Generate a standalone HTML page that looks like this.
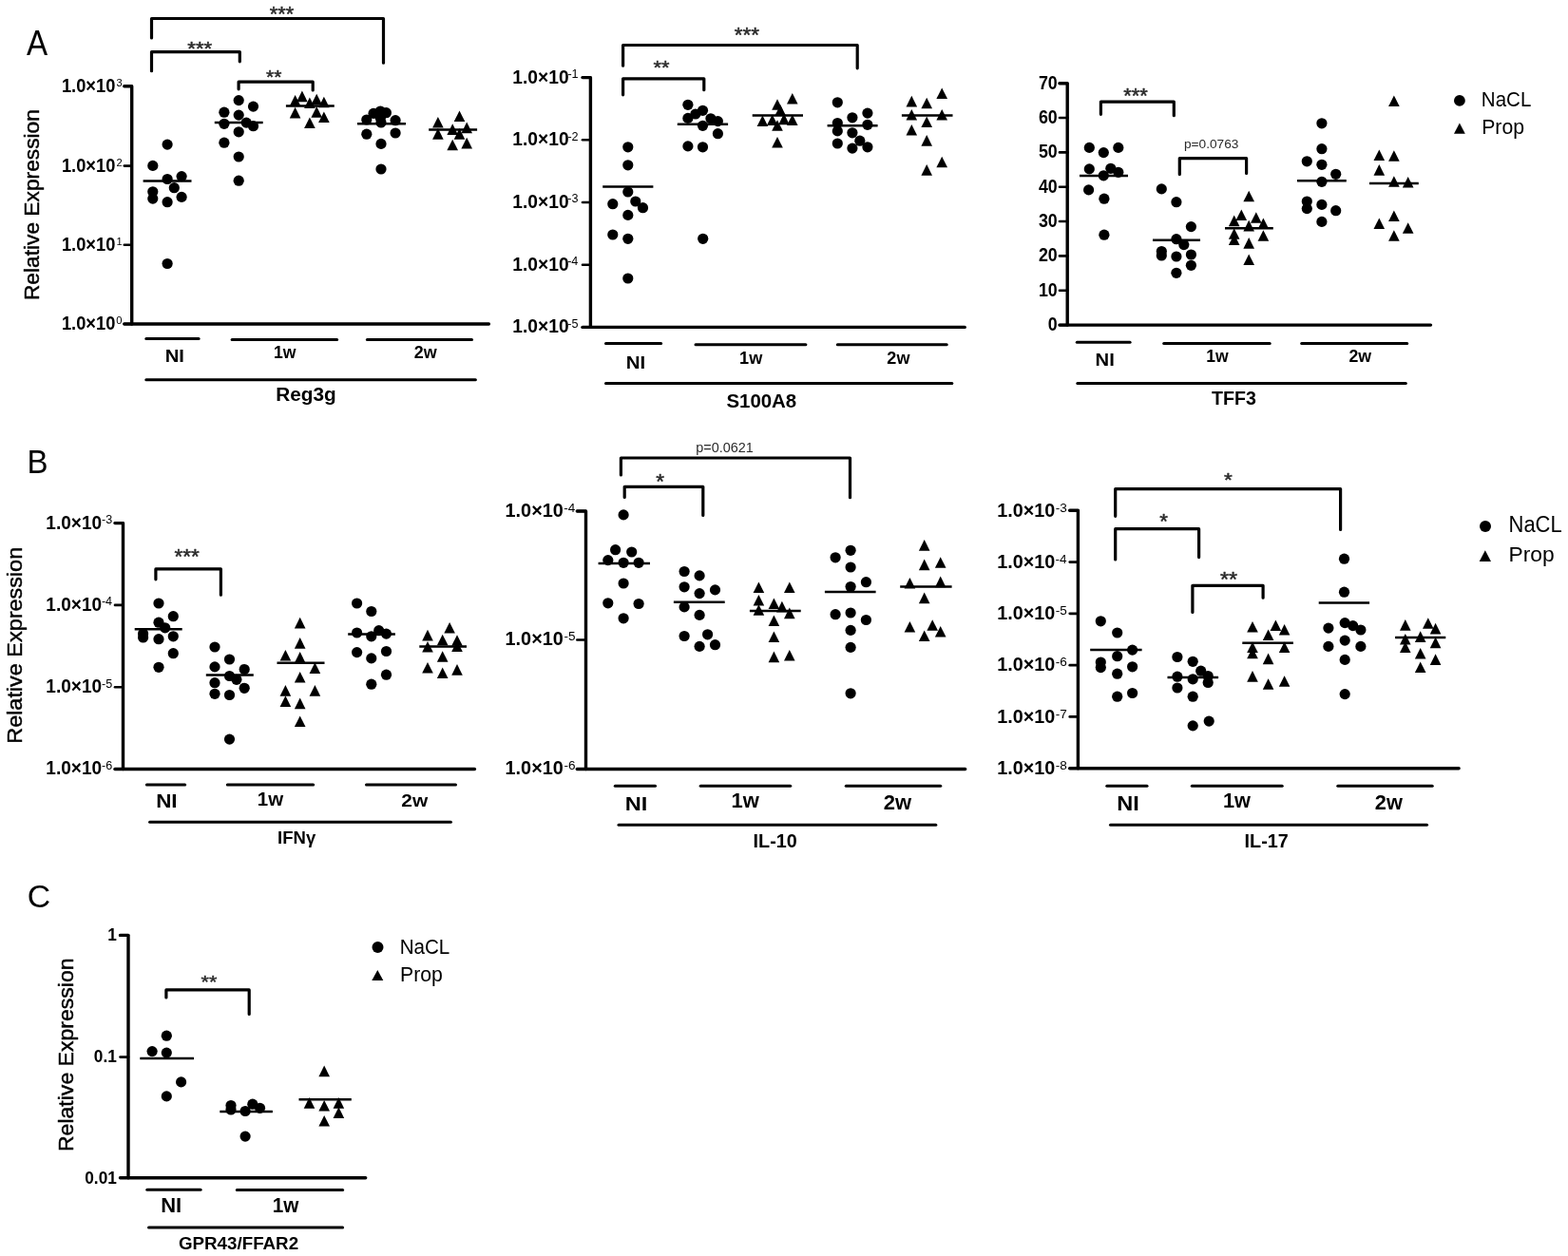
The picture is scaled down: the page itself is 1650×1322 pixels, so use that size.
<!DOCTYPE html>
<html><head><meta charset="utf-8"><title>Figure</title>
<style>
html,body{margin:0;padding:0;background:#fff;}
body{width:1650px;height:1322px;overflow:hidden;}
svg{display:block;}
text{font-family:'Liberation Sans', Arial, sans-serif;}
</style></head>
<body>
<svg width="1650" height="1322" viewBox="0 0 1650 1322">
<rect width="1650" height="1322" fill="#fff"/>
<g fill="#000">
<text transform="matrix(0.33182 0 0 0.36232 28.03 57.6)" font-size="100" font-weight="normal" fill="#000">A</text>
<text transform="matrix(0.33084 0 0 0.34493 28.55 497.8)" font-size="100" font-weight="normal" fill="#000">B</text>
<text transform="matrix(0.3381 0 0 0.33803 28.71 955.46)" font-size="100" font-weight="normal" fill="#000">C</text>
<path d="M130.8 90.8L138.7 90.8L138.7 341" stroke="#000" stroke-width="3.4" fill="none" stroke-linecap="round" stroke-linejoin="round"/>
<line x1="130.8" y1="341" x2="514.4" y2="341" stroke="#000" stroke-width="3.4" stroke-linecap="round"/>
<line x1="130.8" y1="90.8" x2="138.7" y2="90.8" stroke="#000" stroke-width="2.6" stroke-linecap="round"/>
<line x1="130.8" y1="174.6" x2="138.7" y2="174.6" stroke="#000" stroke-width="2.6" stroke-linecap="round"/>
<line x1="130.8" y1="257.8" x2="138.7" y2="257.8" stroke="#000" stroke-width="2.6" stroke-linecap="round"/>
<line x1="130.8" y1="341" x2="138.7" y2="341" stroke="#000" stroke-width="2.6" stroke-linecap="round"/>
<text transform="matrix(0.18289 0 0 0.19565 64.91 96.7)" font-size="100" font-weight="bold" fill="#000">1.0×10</text>
<text transform="matrix(0.11152 0 0 0.11152 122.41 90.89)" font-size="100" font-weight="normal" fill="#000">3</text>
<text transform="matrix(0.18289 0 0 0.19565 64.91 180.5)" font-size="100" font-weight="bold" fill="#000">1.0×10</text>
<text transform="matrix(0.11152 0 0 0.11152 122.47 174.69)" font-size="100" font-weight="normal" fill="#000">2</text>
<text transform="matrix(0.18289 0 0 0.19565 64.91 263.7)" font-size="100" font-weight="bold" fill="#000">1.0×10</text>
<text transform="matrix(0.11152 0 0 0.11152 122.47 257.9)" font-size="100" font-weight="normal" fill="#000">1</text>
<text transform="matrix(0.18289 0 0 0.19565 64.91 346.9)" font-size="100" font-weight="bold" fill="#000">1.0×10</text>
<text transform="matrix(0.11152 0 0 0.11152 122.36 341.09)" font-size="100" font-weight="normal" fill="#000">0</text>
<text transform="matrix(0 -0.22762 0.22174 0 40.7 316.12)" font-size="100" font-weight="normal" fill="#000" stroke="#000" stroke-width="2" stroke-linejoin="round">Relative Expression</text>
<line x1="153.8" y1="356.6" x2="209.1" y2="356.6" stroke="#000" stroke-width="3" stroke-linecap="round"/>
<line x1="244.1" y1="357.4" x2="354.6" y2="357.4" stroke="#000" stroke-width="3" stroke-linecap="round"/>
<line x1="386.4" y1="357.4" x2="496.5" y2="357.4" stroke="#000" stroke-width="3" stroke-linecap="round"/>
<text transform="matrix(0.20231 0 0 0.18406 173.68 380.7)" font-size="100" font-weight="bold" fill="#000">NI</text>
<text transform="matrix(0.17638 0 0 0.17681 288.05 377.2)" font-size="100" font-weight="bold" fill="#000">1w</text>
<text transform="matrix(0.17923 0 0 0.17681 435.77 377.2)" font-size="100" font-weight="bold" fill="#000">2w</text>
<line x1="153.8" y1="399.8" x2="500.4" y2="399.8" stroke="#000" stroke-width="3" stroke-linecap="round"/>
<text transform="matrix(0.20786 0 0 0.1942 290.15 421.7)" font-size="100" font-weight="bold" fill="#000">Reg3g</text>
<path d="M159.5 39.9L159.5 19.5L403.5 19.5L403.5 66.2" stroke="#000" stroke-width="3.2" fill="none" stroke-linecap="round" stroke-linejoin="round"/>
<text transform="matrix(0.2177 0 0 0.21714 283.76 21.78)" font-size="100" font-weight="normal" fill="#2b2b2b" stroke="#2b2b2b" stroke-width="2.3" stroke-linejoin="round">***</text>
<path d="M159.5 74.7L159.5 54.6L252.3 54.6L252.3 64.8" stroke="#000" stroke-width="3.2" fill="none" stroke-linecap="round" stroke-linejoin="round"/>
<text transform="matrix(0.22212 0 0 0.20286 197.26 57.8)" font-size="100" font-weight="normal" fill="#2b2b2b" stroke="#2b2b2b" stroke-width="2.35" stroke-linejoin="round">***</text>
<path d="M251.1 93.8L251.1 86.2L329.2 86.2L329.2 95" stroke="#000" stroke-width="3.2" fill="none" stroke-linecap="round" stroke-linejoin="round"/>
<text transform="matrix(0.21081 0 0 0.20286 280.08 87.5)" font-size="100" font-weight="normal" fill="#2b2b2b" stroke="#2b2b2b" stroke-width="2.42" stroke-linejoin="round">**</text>
<circle cx="176.1" cy="152.1" r="5.6"/>
<circle cx="160.8" cy="174.4" r="5.6"/>
<circle cx="176.1" cy="188.5" r="5.6"/>
<circle cx="191.1" cy="185.6" r="5.6"/>
<circle cx="183.3" cy="197.7" r="5.6"/>
<circle cx="160.8" cy="201.8" r="5.6"/>
<circle cx="160.8" cy="209.1" r="5.6"/>
<circle cx="176.1" cy="212.7" r="5.6"/>
<circle cx="191.1" cy="207.4" r="5.6"/>
<circle cx="176.1" cy="277.5" r="5.6"/>
<line x1="150.6" y1="190.4" x2="201.5" y2="190.4" stroke="#000" stroke-width="2.5" stroke-linecap="butt"/>
<circle cx="251.2" cy="105.6" r="5.6"/>
<circle cx="266.5" cy="112.1" r="5.6"/>
<circle cx="235.9" cy="118.2" r="5.6"/>
<circle cx="251.2" cy="121.1" r="5.6"/>
<circle cx="235.9" cy="130.3" r="5.6"/>
<circle cx="259.2" cy="129.1" r="5.6"/>
<circle cx="266.5" cy="132.7" r="5.6"/>
<circle cx="251.2" cy="138.8" r="5.6"/>
<circle cx="235.9" cy="150.2" r="5.6"/>
<circle cx="251.2" cy="165" r="5.6"/>
<circle cx="251.2" cy="190.2" r="5.6"/>
<line x1="225.8" y1="129.1" x2="276.7" y2="129.1" stroke="#000" stroke-width="2.5" stroke-linecap="butt"/>
<path d="M317.9 95.6L323.7 107.2L312.1 107.2Z"/>
<path d="M310.6 99.9L316.4 111.5L304.8 111.5Z"/>
<path d="M333.2 98.7L339 110.3L327.4 110.3Z"/>
<path d="M340.9 101.7L346.7 113.3L335.1 113.3Z"/>
<path d="M325.9 102.4L331.7 114L320.1 114Z"/>
<path d="M310.6 112.8L316.4 124.4L304.8 124.4Z"/>
<path d="M333.2 112.1L339 123.7L327.4 123.7Z"/>
<path d="M340.9 117.4L346.7 129L335.1 129Z"/>
<path d="M325.9 123.5L331.7 135.1L320.1 135.1Z"/>
<line x1="300.9" y1="111.4" x2="351.8" y2="111.4" stroke="#000" stroke-width="2.5" stroke-linecap="butt"/>
<circle cx="385.8" cy="126" r="5.6"/>
<circle cx="393" cy="119.4" r="5.6"/>
<circle cx="400.3" cy="117" r="5.6"/>
<circle cx="406.4" cy="118.7" r="5.6"/>
<circle cx="400.3" cy="124.2" r="5.6"/>
<circle cx="401" cy="129" r="5.6"/>
<circle cx="416.1" cy="126.7" r="5.6"/>
<circle cx="385.8" cy="141.2" r="5.6"/>
<circle cx="416.1" cy="140" r="5.6"/>
<circle cx="401" cy="151.4" r="5.6"/>
<circle cx="401" cy="178" r="5.6"/>
<line x1="376" y1="130.3" x2="427" y2="130.3" stroke="#000" stroke-width="2.5" stroke-linecap="butt"/>
<path d="M483.5 116.4L489.3 128L477.7 128Z"/>
<path d="M460.9 123L466.7 134.6L455.1 134.6Z"/>
<path d="M476.2 130.3L482 141.9L470.4 141.9Z"/>
<path d="M491.2 128.6L497 140.2L485.4 140.2Z"/>
<path d="M460.9 135.1L466.7 146.7L455.1 146.7Z"/>
<path d="M483.5 135.1L489.3 146.7L477.7 146.7Z"/>
<path d="M476.2 146.7L482 158.3L470.4 158.3Z"/>
<path d="M491.2 144.8L497 156.4L485.4 156.4Z"/>
<line x1="451.2" y1="136.6" x2="502.1" y2="136.6" stroke="#000" stroke-width="2.5" stroke-linecap="butt"/>
<path d="M613 81.6L621.4 81.6L621.4 344.4" stroke="#000" stroke-width="3.4" fill="none" stroke-linecap="round" stroke-linejoin="round"/>
<line x1="613" y1="344.4" x2="1015.2" y2="344.4" stroke="#000" stroke-width="3.4" stroke-linecap="round"/>
<line x1="613" y1="81.6" x2="621.4" y2="81.6" stroke="#000" stroke-width="2.6" stroke-linecap="round"/>
<line x1="613" y1="147.3" x2="621.4" y2="147.3" stroke="#000" stroke-width="2.6" stroke-linecap="round"/>
<line x1="613" y1="213" x2="621.4" y2="213" stroke="#000" stroke-width="2.6" stroke-linecap="round"/>
<line x1="613" y1="278.7" x2="621.4" y2="278.7" stroke="#000" stroke-width="2.6" stroke-linecap="round"/>
<line x1="613" y1="344.4" x2="621.4" y2="344.4" stroke="#000" stroke-width="2.6" stroke-linecap="round"/>
<text transform="matrix(0.19195 0 0 0.20725 539.35 87.5)" font-size="100" font-weight="bold" fill="#000">1.0×10</text>
<text transform="matrix(0.12642 0 0 0.12642 597.38 81.92)" font-size="100" font-weight="normal" fill="#000">-1</text>
<text transform="matrix(0.19195 0 0 0.20725 539.35 153.2)" font-size="100" font-weight="bold" fill="#000">1.0×10</text>
<text transform="matrix(0.12642 0 0 0.12642 597.38 147.62)" font-size="100" font-weight="normal" fill="#000">-2</text>
<text transform="matrix(0.19195 0 0 0.20725 539.35 218.9)" font-size="100" font-weight="bold" fill="#000">1.0×10</text>
<text transform="matrix(0.12642 0 0 0.12642 597.32 213.32)" font-size="100" font-weight="normal" fill="#000">-3</text>
<text transform="matrix(0.19195 0 0 0.20725 539.35 284.6)" font-size="100" font-weight="bold" fill="#000">1.0×10</text>
<text transform="matrix(0.12642 0 0 0.12642 597.13 279.02)" font-size="100" font-weight="normal" fill="#000">-4</text>
<text transform="matrix(0.19195 0 0 0.20725 539.35 350.3)" font-size="100" font-weight="bold" fill="#000">1.0×10</text>
<text transform="matrix(0.12642 0 0 0.12642 597.25 344.72)" font-size="100" font-weight="normal" fill="#000">-5</text>
<line x1="637.5" y1="361.5" x2="695.6" y2="361.5" stroke="#000" stroke-width="3" stroke-linecap="round"/>
<line x1="732" y1="362.7" x2="847.9" y2="362.7" stroke="#000" stroke-width="3" stroke-linecap="round"/>
<line x1="881.3" y1="362.7" x2="996.2" y2="362.7" stroke="#000" stroke-width="3" stroke-linecap="round"/>
<text transform="matrix(0.20462 0 0 0.18406 658.67 387.5)" font-size="100" font-weight="bold" fill="#000">NI</text>
<text transform="matrix(0.1811 0 0 0.18261 778.12 383.3)" font-size="100" font-weight="bold" fill="#000">1w</text>
<text transform="matrix(0.18077 0 0 0.18261 933.37 383.3)" font-size="100" font-weight="bold" fill="#000">2w</text>
<line x1="637.5" y1="403.5" x2="1001.8" y2="403.5" stroke="#000" stroke-width="3" stroke-linecap="round"/>
<text transform="matrix(0.2045 0 0 0.20145 764.39 428.7)" font-size="100" font-weight="bold" fill="#000">S100A8</text>
<path d="M655.6 69.2L655.6 47.5L902.2 47.5L902.2 71.8" stroke="#000" stroke-width="3.2" fill="none" stroke-linecap="round" stroke-linejoin="round"/>
<text transform="matrix(0.22566 0 0 0.22 772.75 44.48)" font-size="100" font-weight="normal" fill="#2b2b2b" stroke="#2b2b2b" stroke-width="2.24" stroke-linejoin="round">***</text>
<path d="M655.6 99.8L655.6 82.8L740.8 82.8L740.8 94.7" stroke="#000" stroke-width="3.2" fill="none" stroke-linecap="round" stroke-linejoin="round"/>
<text transform="matrix(0.21892 0 0 0.20857 687.46 77.69)" font-size="100" font-weight="normal" fill="#2b2b2b" stroke="#2b2b2b" stroke-width="2.34" stroke-linejoin="round">**</text>
<circle cx="660.8" cy="154.8" r="5.6"/>
<circle cx="660.8" cy="173.8" r="5.6"/>
<circle cx="660.8" cy="202" r="5.6"/>
<circle cx="644.8" cy="214.7" r="5.6"/>
<circle cx="668.8" cy="212" r="5.6"/>
<circle cx="676.5" cy="218.7" r="5.6"/>
<circle cx="660.8" cy="226.4" r="5.6"/>
<circle cx="644.8" cy="247" r="5.6"/>
<circle cx="660.8" cy="251.3" r="5.6"/>
<circle cx="660.8" cy="293" r="5.6"/>
<line x1="634.2" y1="196.4" x2="687.4" y2="196.4" stroke="#000" stroke-width="2.5" stroke-linecap="butt"/>
<circle cx="723.9" cy="110.3" r="5.6"/>
<circle cx="739.5" cy="116.3" r="5.6"/>
<circle cx="731.9" cy="120" r="5.6"/>
<circle cx="723.9" cy="124.4" r="5.6"/>
<circle cx="747.9" cy="124.8" r="5.6"/>
<circle cx="755.4" cy="127.6" r="5.6"/>
<circle cx="739.5" cy="132.3" r="5.6"/>
<circle cx="755.4" cy="140.7" r="5.6"/>
<circle cx="723.9" cy="153.9" r="5.6"/>
<circle cx="739.5" cy="154.8" r="5.6"/>
<circle cx="739.7" cy="251.3" r="5.6"/>
<line x1="712.8" y1="130.8" x2="766.1" y2="130.8" stroke="#000" stroke-width="2.5" stroke-linecap="butt"/>
<path d="M833.8 98L839.6 109.6L828 109.6Z"/>
<path d="M818 104.2L823.8 115.8L812.2 115.8Z"/>
<path d="M821.2 110.2L827 121.8L815.4 121.8Z"/>
<path d="M802.4 121.5L808.2 133.1L796.6 133.1Z"/>
<path d="M812.7 120.5L818.5 132.1L806.9 132.1Z"/>
<path d="M825 119.6L830.8 131.2L819.2 131.2Z"/>
<path d="M833.8 120.5L839.6 132.1L828 132.1Z"/>
<path d="M818 126.2L823.8 137.8L812.2 137.8Z"/>
<path d="M818 144L823.8 155.6L812.2 155.6Z"/>
<line x1="791.7" y1="121.6" x2="845" y2="121.6" stroke="#000" stroke-width="2.5" stroke-linecap="butt"/>
<circle cx="881.3" cy="107.8" r="5.6"/>
<circle cx="912.9" cy="119.1" r="5.6"/>
<circle cx="896.9" cy="123.8" r="5.6"/>
<circle cx="881.3" cy="129.5" r="5.6"/>
<circle cx="912.9" cy="131.3" r="5.6"/>
<circle cx="881.3" cy="137.9" r="5.6"/>
<circle cx="896.9" cy="139.8" r="5.6"/>
<circle cx="904.8" cy="148.2" r="5.6"/>
<circle cx="881.3" cy="151" r="5.6"/>
<circle cx="896.9" cy="156.1" r="5.6"/>
<circle cx="912.9" cy="154.8" r="5.6"/>
<line x1="870.6" y1="132.3" x2="923.6" y2="132.3" stroke="#000" stroke-width="2.5" stroke-linecap="butt"/>
<path d="M991.2 92.4L997 104L985.4 104Z"/>
<path d="M959.3 100.8L965.1 112.4L953.5 112.4Z"/>
<path d="M975.2 102.7L981 114.3L969.4 114.3Z"/>
<path d="M959.3 114.9L965.1 126.5L953.5 126.5Z"/>
<path d="M991.2 114.9L997 126.5L985.4 126.5Z"/>
<path d="M975.2 122.4L981 134L969.4 134Z"/>
<path d="M959.3 130.9L965.1 142.5L953.5 142.5Z"/>
<path d="M975.2 142.1L981 153.7L969.4 153.7Z"/>
<path d="M991.2 164.7L997 176.3L985.4 176.3Z"/>
<path d="M975.2 173.1L981 184.7L969.4 184.7Z"/>
<line x1="948.9" y1="121.6" x2="1002.5" y2="121.6" stroke="#000" stroke-width="2.5" stroke-linecap="butt"/>
<path d="M1115 87.7L1123.2 87.7L1123.2 342.1" stroke="#000" stroke-width="3.4" fill="none" stroke-linecap="round" stroke-linejoin="round"/>
<line x1="1115" y1="342.1" x2="1505.5" y2="342.1" stroke="#000" stroke-width="3.4" stroke-linecap="round"/>
<line x1="1115" y1="342.1" x2="1123.2" y2="342.1" stroke="#000" stroke-width="2.6" stroke-linecap="round"/>
<line x1="1115" y1="305.76" x2="1123.2" y2="305.76" stroke="#000" stroke-width="2.6" stroke-linecap="round"/>
<line x1="1115" y1="269.41" x2="1123.2" y2="269.41" stroke="#000" stroke-width="2.6" stroke-linecap="round"/>
<line x1="1115" y1="233.07" x2="1123.2" y2="233.07" stroke="#000" stroke-width="2.6" stroke-linecap="round"/>
<line x1="1115" y1="196.73" x2="1123.2" y2="196.73" stroke="#000" stroke-width="2.6" stroke-linecap="round"/>
<line x1="1115" y1="160.39" x2="1123.2" y2="160.39" stroke="#000" stroke-width="2.6" stroke-linecap="round"/>
<line x1="1115" y1="124.04" x2="1123.2" y2="124.04" stroke="#000" stroke-width="2.6" stroke-linecap="round"/>
<line x1="1115" y1="87.7" x2="1123.2" y2="87.7" stroke="#000" stroke-width="2.6" stroke-linecap="round"/>
<text transform="matrix(0.178 0 0 0.2 1102.83 348)" font-size="100" font-weight="bold" fill="#000">0</text>
<text transform="matrix(0.178 0 0 0.2 1092.95 311.66)" font-size="100" font-weight="bold" fill="#000">10</text>
<text transform="matrix(0.178 0 0 0.2 1092.95 275.31)" font-size="100" font-weight="bold" fill="#000">20</text>
<text transform="matrix(0.178 0 0 0.2 1092.95 238.97)" font-size="100" font-weight="bold" fill="#000">30</text>
<text transform="matrix(0.178 0 0 0.2 1092.95 202.63)" font-size="100" font-weight="bold" fill="#000">40</text>
<text transform="matrix(0.178 0 0 0.2 1092.95 166.29)" font-size="100" font-weight="bold" fill="#000">50</text>
<text transform="matrix(0.178 0 0 0.2 1092.95 129.94)" font-size="100" font-weight="bold" fill="#000">60</text>
<text transform="matrix(0.178 0 0 0.2 1092.95 93.6)" font-size="100" font-weight="bold" fill="#000">70</text>
<line x1="1133.3" y1="360.3" x2="1189.1" y2="360.3" stroke="#000" stroke-width="3" stroke-linecap="round"/>
<line x1="1224.7" y1="361.5" x2="1336.2" y2="361.5" stroke="#000" stroke-width="3" stroke-linecap="round"/>
<line x1="1369.7" y1="361.5" x2="1480.7" y2="361.5" stroke="#000" stroke-width="3" stroke-linecap="round"/>
<text transform="matrix(0.20231 0 0 0.18696 1152.58 385.3)" font-size="100" font-weight="bold" fill="#000">NI</text>
<text transform="matrix(0.17559 0 0 0.18261 1269.16 381.4)" font-size="100" font-weight="bold" fill="#000">1w</text>
<text transform="matrix(0.17769 0 0 0.18261 1419.48 381.4)" font-size="100" font-weight="bold" fill="#000">2w</text>
<line x1="1133.8" y1="403.5" x2="1479.3" y2="403.5" stroke="#000" stroke-width="3" stroke-linecap="round"/>
<text transform="matrix(0.19616 0 0 0.20145 1275 425.8)" font-size="100" font-weight="bold" fill="#000">TFF3</text>
<path d="M1158.4 120.3L1158.4 107.1L1235.3 107.1L1235.3 121.7" stroke="#000" stroke-width="3.2" fill="none" stroke-linecap="round" stroke-linejoin="round"/>
<text transform="matrix(0.21947 0 0 0.22286 1182.16 108.08)" font-size="100" font-weight="normal" fill="#2b2b2b" stroke="#2b2b2b" stroke-width="2.26" stroke-linejoin="round">***</text>
<path d="M1241.3 183.6L1241.3 166.6L1311.6 166.6L1311.6 182.5" stroke="#000" stroke-width="3.2" fill="none" stroke-linecap="round" stroke-linejoin="round"/>
<text transform="matrix(0.13692 0 0 0.13333 1246.01 156)" font-size="100" font-weight="normal" fill="#2b2b2b">p=0.0763</text>
<circle cx="1146.3" cy="155.4" r="5.6"/>
<circle cx="1161.3" cy="160.6" r="5.6"/>
<circle cx="1176.8" cy="155.4" r="5.6"/>
<circle cx="1146.3" cy="177.9" r="5.6"/>
<circle cx="1168.8" cy="177.3" r="5.6"/>
<circle cx="1176.8" cy="181.3" r="5.6"/>
<circle cx="1161.3" cy="184.8" r="5.6"/>
<circle cx="1145.6" cy="199.9" r="5.6"/>
<circle cx="1161.9" cy="209.2" r="5.6"/>
<circle cx="1161.9" cy="247.2" r="5.6"/>
<line x1="1136" y1="185" x2="1187" y2="185" stroke="#000" stroke-width="2.5" stroke-linecap="butt"/>
<circle cx="1222.3" cy="198.9" r="5.6"/>
<circle cx="1237.9" cy="212.7" r="5.6"/>
<circle cx="1253.4" cy="238.6" r="5.6"/>
<circle cx="1237.9" cy="251.7" r="5.6"/>
<circle cx="1245.8" cy="257.6" r="5.6"/>
<circle cx="1222.3" cy="264.5" r="5.6"/>
<circle cx="1222.3" cy="269" r="5.6"/>
<circle cx="1237.9" cy="270" r="5.6"/>
<circle cx="1253.4" cy="268" r="5.6"/>
<circle cx="1253.4" cy="279.3" r="5.6"/>
<circle cx="1237.9" cy="287.3" r="5.6"/>
<line x1="1213" y1="252.7" x2="1263" y2="252.7" stroke="#000" stroke-width="2.5" stroke-linecap="butt"/>
<path d="M1314.2 200.7L1320 212.3L1308.4 212.3Z"/>
<path d="M1306.3 220.4L1312.1 232L1300.5 232Z"/>
<path d="M1321.8 223.2L1327.6 234.8L1316 234.8Z"/>
<path d="M1298.7 226.6L1304.5 238.2L1292.9 238.2Z"/>
<path d="M1329.4 229.4L1335.2 241L1323.6 241Z"/>
<path d="M1314.2 231.8L1320 243.4L1308.4 243.4Z"/>
<path d="M1298.7 240.2L1304.5 251.8L1292.9 251.8Z"/>
<path d="M1298.7 246.4L1304.5 258L1292.9 258Z"/>
<path d="M1329.4 242.2L1335.2 253.8L1323.6 253.8Z"/>
<path d="M1314.2 250.1L1320 261.7L1308.4 261.7Z"/>
<path d="M1314.2 267.4L1320 279L1308.4 279Z"/>
<line x1="1289" y1="240.3" x2="1339.8" y2="240.3" stroke="#000" stroke-width="2.5" stroke-linecap="butt"/>
<circle cx="1390.9" cy="129.8" r="5.6"/>
<circle cx="1390.9" cy="156.7" r="5.6"/>
<circle cx="1375.3" cy="169.8" r="5.6"/>
<circle cx="1390.9" cy="173.3" r="5.6"/>
<circle cx="1405.7" cy="183.3" r="5.6"/>
<circle cx="1390.9" cy="191.3" r="5.6"/>
<circle cx="1375.3" cy="212" r="5.6"/>
<circle cx="1375.3" cy="219.6" r="5.6"/>
<circle cx="1390.9" cy="215.4" r="5.6"/>
<circle cx="1405.7" cy="221.7" r="5.6"/>
<circle cx="1390.9" cy="233.4" r="5.6"/>
<line x1="1365" y1="190.2" x2="1416.8" y2="190.2" stroke="#000" stroke-width="2.5" stroke-linecap="butt"/>
<path d="M1466.9 100.5L1472.7 112.1L1461.1 112.1Z"/>
<path d="M1451.3 157.5L1457.1 169.1L1445.5 169.1Z"/>
<path d="M1466.9 158.2L1472.7 169.8L1461.1 169.8Z"/>
<path d="M1451.3 173.1L1457.1 184.7L1445.5 184.7Z"/>
<path d="M1466.9 185.2L1472.7 196.8L1461.1 196.8Z"/>
<path d="M1481.7 185.9L1487.5 197.5L1475.9 197.5Z"/>
<path d="M1466.9 221.4L1472.7 233L1461.1 233Z"/>
<path d="M1451.3 229.4L1457.1 241L1445.5 241Z"/>
<path d="M1481.7 234.2L1487.5 245.8L1475.9 245.8Z"/>
<path d="M1466.9 242.2L1472.7 253.8L1461.1 253.8Z"/>
<line x1="1441" y1="193" x2="1492.8" y2="193" stroke="#000" stroke-width="2.5" stroke-linecap="butt"/>
<circle cx="1535.9" cy="105.9" r="5.9"/>
<text transform="matrix(0.20532 0 0 0.21739 1558.86 111.8)" font-size="100" font-weight="normal" fill="#000">NaCL</text>
<path d="M1535.9 129.5L1541.8 140.7L1530 140.7Z"/>
<text transform="matrix(0.21256 0 0 0.21159 1559.2 140.5)" font-size="100" font-weight="normal" fill="#000">Prop</text>
<path d="M121 550.6L129.5 550.6L129.5 809.5" stroke="#000" stroke-width="3.4" fill="none" stroke-linecap="round" stroke-linejoin="round"/>
<line x1="121" y1="809.5" x2="499.4" y2="809.5" stroke="#000" stroke-width="3.4" stroke-linecap="round"/>
<line x1="121" y1="550.6" x2="129.5" y2="550.6" stroke="#000" stroke-width="2.6" stroke-linecap="round"/>
<line x1="121" y1="636.9" x2="129.5" y2="636.9" stroke="#000" stroke-width="2.6" stroke-linecap="round"/>
<line x1="121" y1="723.2" x2="129.5" y2="723.2" stroke="#000" stroke-width="2.6" stroke-linecap="round"/>
<line x1="121" y1="809.5" x2="129.5" y2="809.5" stroke="#000" stroke-width="2.6" stroke-linecap="round"/>
<text transform="matrix(0.19027 0 0 0.2029 48.36 556.5)" font-size="100" font-weight="bold" fill="#000">1.0×10</text>
<text transform="matrix(0.1258 0 0 0.1258 107.07 551.18)" font-size="100" font-weight="normal" fill="#000">-3</text>
<text transform="matrix(0.19027 0 0 0.2029 48.36 642.8)" font-size="100" font-weight="bold" fill="#000">1.0×10</text>
<text transform="matrix(0.1258 0 0 0.1258 106.88 637.48)" font-size="100" font-weight="normal" fill="#000">-4</text>
<text transform="matrix(0.19027 0 0 0.2029 48.36 729.1)" font-size="100" font-weight="bold" fill="#000">1.0×10</text>
<text transform="matrix(0.1258 0 0 0.1258 107.01 723.78)" font-size="100" font-weight="normal" fill="#000">-5</text>
<text transform="matrix(0.19027 0 0 0.2029 48.36 815.4)" font-size="100" font-weight="bold" fill="#000">1.0×10</text>
<text transform="matrix(0.1258 0 0 0.1258 107.07 810.08)" font-size="100" font-weight="normal" fill="#000">-6</text>
<text transform="matrix(0 -0.23429 0.22464 0 23.1 782.77)" font-size="100" font-weight="normal" fill="#000" stroke="#000" stroke-width="1.96" stroke-linejoin="round">Relative Expression</text>
<line x1="154.4" y1="826" x2="194.7" y2="826" stroke="#000" stroke-width="3" stroke-linecap="round"/>
<line x1="239.3" y1="826" x2="329.7" y2="826" stroke="#000" stroke-width="3" stroke-linecap="round"/>
<line x1="385.5" y1="826" x2="479.5" y2="826" stroke="#000" stroke-width="3" stroke-linecap="round"/>
<text transform="matrix(0.22428 0 0 0.1971 164.14 850.3)" font-size="100" font-weight="bold" fill="#000">NI</text>
<text transform="matrix(0.20472 0 0 0.2029 270.87 847.8)" font-size="100" font-weight="bold" fill="#000">1w</text>
<text transform="matrix(0.20923 0 0 0.18986 422.27 848.8)" font-size="100" font-weight="bold" fill="#000">2w</text>
<line x1="157.6" y1="865.3" x2="474.4" y2="865.3" stroke="#000" stroke-width="3" stroke-linecap="round"/>
<text transform="matrix(0.1852 0 0 0.19275 292.1 888.3)" font-size="100" font-weight="bold" fill="#000">IFNγ</text>
<path d="M163.9 609.8L163.9 598.9L232.4 598.9L232.4 626.2" stroke="#000" stroke-width="3.2" fill="none" stroke-linecap="round" stroke-linejoin="round"/>
<text transform="matrix(0.22566 0 0 0.21714 183.45 592.68)" font-size="100" font-weight="normal" fill="#2b2b2b" stroke="#2b2b2b" stroke-width="2.26" stroke-linejoin="round">***</text>
<circle cx="167" cy="635" r="5.6"/>
<circle cx="182.3" cy="648.7" r="5.6"/>
<circle cx="167" cy="655.2" r="5.6"/>
<circle cx="173.7" cy="660.8" r="5.6"/>
<circle cx="150.6" cy="667" r="5.6"/>
<circle cx="150.6" cy="671" r="5.6"/>
<circle cx="167" cy="672.7" r="5.6"/>
<circle cx="182.3" cy="669.8" r="5.6"/>
<circle cx="182.3" cy="687.7" r="5.6"/>
<circle cx="167" cy="702.3" r="5.6"/>
<line x1="141.7" y1="662.2" x2="191.7" y2="662.2" stroke="#000" stroke-width="2.5" stroke-linecap="butt"/>
<circle cx="226" cy="681" r="5.6"/>
<circle cx="241.5" cy="694" r="5.6"/>
<circle cx="226" cy="701.9" r="5.6"/>
<circle cx="257.2" cy="704.5" r="5.6"/>
<circle cx="241.5" cy="711.5" r="5.6"/>
<circle cx="248.9" cy="715.3" r="5.6"/>
<circle cx="226" cy="718.7" r="5.6"/>
<circle cx="257.2" cy="724.3" r="5.6"/>
<circle cx="226" cy="730.3" r="5.6"/>
<circle cx="241.5" cy="731.5" r="5.6"/>
<circle cx="241.5" cy="778.1" r="5.6"/>
<line x1="216.8" y1="710.4" x2="266.8" y2="710.4" stroke="#000" stroke-width="2.5" stroke-linecap="butt"/>
<path d="M315.7 649.8L321.5 661.4L309.9 661.4Z"/>
<path d="M315.7 671.1L321.5 682.7L309.9 682.7Z"/>
<path d="M300.4 683.9L306.2 695.5L294.6 695.5Z"/>
<path d="M315.7 686.1L321.5 697.7L309.9 697.7Z"/>
<path d="M331.4 697.3L337.2 708.9L325.6 708.9Z"/>
<path d="M315.7 707L321.5 718.6L309.9 718.6Z"/>
<path d="M300.4 721.1L306.2 732.7L294.6 732.7Z"/>
<path d="M331.4 721.1L337.2 732.7L325.6 732.7Z"/>
<path d="M300.4 732.3L306.2 743.9L294.6 743.9Z"/>
<path d="M315.7 734.6L321.5 746.2L309.9 746.2Z"/>
<path d="M315.7 753.4L321.5 765L309.9 765Z"/>
<line x1="291.5" y1="697.8" x2="341.5" y2="697.8" stroke="#000" stroke-width="2.5" stroke-linecap="butt"/>
<circle cx="375.6" cy="635" r="5.6"/>
<circle cx="390.8" cy="643.5" r="5.6"/>
<circle cx="375.6" cy="666" r="5.6"/>
<circle cx="398.7" cy="663.7" r="5.6"/>
<circle cx="390.8" cy="669.8" r="5.6"/>
<circle cx="406.5" cy="667.1" r="5.6"/>
<circle cx="375.6" cy="686.6" r="5.6"/>
<circle cx="406.5" cy="685.5" r="5.6"/>
<circle cx="390.8" cy="692.9" r="5.6"/>
<circle cx="406.5" cy="710.2" r="5.6"/>
<circle cx="390.8" cy="720.2" r="5.6"/>
<line x1="366.2" y1="667.5" x2="415.9" y2="667.5" stroke="#000" stroke-width="2.5" stroke-linecap="butt"/>
<path d="M473.1 654.9L478.9 666.5L467.3 666.5Z"/>
<path d="M450 662.8L455.8 674.4L444.2 674.4Z"/>
<path d="M465.7 667.7L471.5 679.3L459.9 679.3Z"/>
<path d="M481 668.2L486.8 679.8L475.2 679.8Z"/>
<path d="M450 674.9L455.8 686.5L444.2 686.5Z"/>
<path d="M481 674.5L486.8 686.1L475.2 686.1Z"/>
<path d="M465.7 685.2L471.5 696.8L459.9 696.8Z"/>
<path d="M450 696.9L455.8 708.5L444.2 708.5Z"/>
<path d="M465.7 702.5L471.5 714.1L459.9 714.1Z"/>
<path d="M481 699.1L486.8 710.7L475.2 710.7Z"/>
<line x1="441.3" y1="680.6" x2="491" y2="680.6" stroke="#000" stroke-width="2.5" stroke-linecap="butt"/>
<path d="M607.3 538L616.5 538L616.5 809.5" stroke="#000" stroke-width="3.4" fill="none" stroke-linecap="round" stroke-linejoin="round"/>
<line x1="607.3" y1="809.5" x2="1015.6" y2="809.5" stroke="#000" stroke-width="3.4" stroke-linecap="round"/>
<line x1="607.3" y1="538" x2="616.5" y2="538" stroke="#000" stroke-width="2.6" stroke-linecap="round"/>
<line x1="607.3" y1="673.5" x2="616.5" y2="673.5" stroke="#000" stroke-width="2.6" stroke-linecap="round"/>
<line x1="607.3" y1="809.5" x2="616.5" y2="809.5" stroke="#000" stroke-width="2.6" stroke-linecap="round"/>
<text transform="matrix(0.19866 0 0 0.2087 531.51 543.6)" font-size="100" font-weight="bold" fill="#000">1.0×10</text>
<text transform="matrix(0.13565 0 0 0.13565 593.33 538.56)" font-size="100" font-weight="normal" fill="#000">-4</text>
<text transform="matrix(0.19866 0 0 0.2087 531.51 679.1)" font-size="100" font-weight="bold" fill="#000">1.0×10</text>
<text transform="matrix(0.13565 0 0 0.13565 593.47 674.06)" font-size="100" font-weight="normal" fill="#000">-5</text>
<text transform="matrix(0.19866 0 0 0.2087 531.51 815.1)" font-size="100" font-weight="bold" fill="#000">1.0×10</text>
<text transform="matrix(0.13565 0 0 0.13565 593.54 810.06)" font-size="100" font-weight="normal" fill="#000">-6</text>
<line x1="647.3" y1="827.3" x2="689.5" y2="827.3" stroke="#000" stroke-width="3" stroke-linecap="round"/>
<line x1="737.2" y1="827.3" x2="831.7" y2="827.3" stroke="#000" stroke-width="3" stroke-linecap="round"/>
<line x1="890.3" y1="827.3" x2="989.7" y2="827.3" stroke="#000" stroke-width="3" stroke-linecap="round"/>
<text transform="matrix(0.23584 0 0 0.2058 657.67 852.7)" font-size="100" font-weight="bold" fill="#000">NI</text>
<text transform="matrix(0.21969 0 0 0.21594 769.57 850.2)" font-size="100" font-weight="bold" fill="#000">1w</text>
<text transform="matrix(0.22 0 0 0.21739 929.83 851.7)" font-size="100" font-weight="bold" fill="#000">2w</text>
<line x1="651" y1="868.3" x2="984.8" y2="868.3" stroke="#000" stroke-width="3" stroke-linecap="round"/>
<text transform="matrix(0.19821 0 0 0.1971 792.61 891.9)" font-size="100" font-weight="bold" fill="#000">IL-10</text>
<path d="M653.4 500L653.4 482L894.5 482L894.5 523.7" stroke="#000" stroke-width="3.2" fill="none" stroke-linecap="round" stroke-linejoin="round"/>
<text transform="matrix(0.14419 0 0 0.14203 732.36 476.3)" font-size="100" font-weight="normal" fill="#2b2b2b">p=0.0621</text>
<path d="M657.2 523.4L657.2 512.3L739.8 512.3L739.8 542.5" stroke="#000" stroke-width="3.2" fill="none" stroke-linecap="round" stroke-linejoin="round"/>
<text transform="matrix(0.22571 0 0 0.21714 690.25 513.88)" font-size="100" font-weight="normal" fill="#2b2b2b" stroke="#2b2b2b" stroke-width="2.26" stroke-linejoin="round">*</text>
<circle cx="656.1" cy="541.9" r="5.6"/>
<circle cx="647.6" cy="578.7" r="5.6"/>
<circle cx="664.7" cy="581" r="5.6"/>
<circle cx="639.8" cy="589.6" r="5.6"/>
<circle cx="656.1" cy="592.3" r="5.6"/>
<circle cx="672.1" cy="592.3" r="5.6"/>
<circle cx="656.1" cy="614" r="5.6"/>
<circle cx="639.8" cy="634.8" r="5.6"/>
<circle cx="672.1" cy="635.5" r="5.6"/>
<circle cx="656.1" cy="650.8" r="5.6"/>
<line x1="629.6" y1="593" x2="684" y2="593" stroke="#000" stroke-width="2.5" stroke-linecap="butt"/>
<circle cx="720.1" cy="601.5" r="5.6"/>
<circle cx="736.1" cy="605.9" r="5.6"/>
<circle cx="720.1" cy="617.8" r="5.6"/>
<circle cx="752.5" cy="620.9" r="5.6"/>
<circle cx="736.1" cy="624.6" r="5.6"/>
<circle cx="720.1" cy="638.9" r="5.6"/>
<circle cx="736.1" cy="647.4" r="5.6"/>
<circle cx="720.1" cy="669.5" r="5.6"/>
<circle cx="744.6" cy="667.8" r="5.6"/>
<circle cx="736.1" cy="680.4" r="5.6"/>
<circle cx="752.5" cy="678.7" r="5.6"/>
<line x1="708.9" y1="633.8" x2="762.7" y2="633.8" stroke="#000" stroke-width="2.5" stroke-linecap="butt"/>
<path d="M798.4 612.4L804.2 624L792.6 624Z"/>
<path d="M830.8 612.4L836.6 624L825 624Z"/>
<path d="M798.4 626L804.2 637.6L792.6 637.6Z"/>
<path d="M814.4 629.4L820.2 641L808.6 641Z"/>
<path d="M798.4 636.2L804.2 647.8L792.6 647.8Z"/>
<path d="M822.9 632.8L828.7 644.4L817.1 644.4Z"/>
<path d="M830.8 639.6L836.6 651.2L825 651.2Z"/>
<path d="M814.4 647.4L820.2 659L808.6 659Z"/>
<path d="M814.4 664.5L820.2 676.1L808.6 676.1Z"/>
<path d="M814.4 685.6L820.2 697.2L808.6 697.2Z"/>
<path d="M830.8 683.9L836.6 695.5L825 695.5Z"/>
<line x1="788.9" y1="643" x2="842.7" y2="643" stroke="#000" stroke-width="2.5" stroke-linecap="butt"/>
<circle cx="895.1" cy="579.3" r="5.6"/>
<circle cx="879.1" cy="586.8" r="5.6"/>
<circle cx="895.1" cy="597" r="5.6"/>
<circle cx="895.1" cy="617.5" r="5.6"/>
<circle cx="911.4" cy="612.7" r="5.6"/>
<circle cx="879.1" cy="646.7" r="5.6"/>
<circle cx="895.1" cy="645" r="5.6"/>
<circle cx="911.4" cy="652.5" r="5.6"/>
<circle cx="895.1" cy="663.4" r="5.6"/>
<circle cx="895.1" cy="681.4" r="5.6"/>
<circle cx="895.1" cy="729.8" r="5.6"/>
<line x1="867.9" y1="622.9" x2="921.6" y2="622.9" stroke="#000" stroke-width="2.5" stroke-linecap="butt"/>
<path d="M972.7 568.1L978.5 579.7L966.9 579.7Z"/>
<path d="M972.7 588.6L978.5 600.2L966.9 600.2Z"/>
<path d="M989.7 586.2L995.5 597.8L983.9 597.8Z"/>
<path d="M957.4 607.9L963.2 619.5L951.6 619.5Z"/>
<path d="M989.7 606.6L995.5 618.2L983.9 618.2Z"/>
<path d="M972.7 623.6L978.5 635.2L966.9 635.2Z"/>
<path d="M957.4 653.9L963.2 665.5L951.6 665.5Z"/>
<path d="M981.2 652.2L987 663.8L975.4 663.8Z"/>
<path d="M972.7 663.4L978.5 675L966.9 675Z"/>
<path d="M989.7 659L995.5 670.6L983.9 670.6Z"/>
<line x1="947.2" y1="617.5" x2="1001.6" y2="617.5" stroke="#000" stroke-width="2.5" stroke-linecap="butt"/>
<path d="M1125.7 537.3L1134.4 537.3L1134.4 808.7" stroke="#000" stroke-width="3.4" fill="none" stroke-linecap="round" stroke-linejoin="round"/>
<line x1="1125.7" y1="808.7" x2="1535.1" y2="808.7" stroke="#000" stroke-width="3.4" stroke-linecap="round"/>
<line x1="1125.7" y1="537.3" x2="1134.4" y2="537.3" stroke="#000" stroke-width="2.6" stroke-linecap="round"/>
<line x1="1125.7" y1="591.58" x2="1134.4" y2="591.58" stroke="#000" stroke-width="2.6" stroke-linecap="round"/>
<line x1="1125.7" y1="645.86" x2="1134.4" y2="645.86" stroke="#000" stroke-width="2.6" stroke-linecap="round"/>
<line x1="1125.7" y1="700.14" x2="1134.4" y2="700.14" stroke="#000" stroke-width="2.6" stroke-linecap="round"/>
<line x1="1125.7" y1="754.42" x2="1134.4" y2="754.42" stroke="#000" stroke-width="2.6" stroke-linecap="round"/>
<line x1="1125.7" y1="808.7" x2="1134.4" y2="808.7" stroke="#000" stroke-width="2.6" stroke-linecap="round"/>
<text transform="matrix(0.19765 0 0 0.2087 1049.32 543.6)" font-size="100" font-weight="bold" fill="#000">1.0×10</text>
<text transform="matrix(0.13565 0 0 0.13565 1110.74 538.56)" font-size="100" font-weight="normal" fill="#000">-3</text>
<text transform="matrix(0.19765 0 0 0.2087 1049.32 597.88)" font-size="100" font-weight="bold" fill="#000">1.0×10</text>
<text transform="matrix(0.13565 0 0 0.13565 1110.53 592.84)" font-size="100" font-weight="normal" fill="#000">-4</text>
<text transform="matrix(0.19765 0 0 0.2087 1049.32 652.16)" font-size="100" font-weight="bold" fill="#000">1.0×10</text>
<text transform="matrix(0.13565 0 0 0.13565 1110.67 647.12)" font-size="100" font-weight="normal" fill="#000">-5</text>
<text transform="matrix(0.19765 0 0 0.2087 1049.32 706.44)" font-size="100" font-weight="bold" fill="#000">1.0×10</text>
<text transform="matrix(0.13565 0 0 0.13565 1110.74 701.4)" font-size="100" font-weight="normal" fill="#000">-6</text>
<text transform="matrix(0.19765 0 0 0.2087 1049.32 760.72)" font-size="100" font-weight="bold" fill="#000">1.0×10</text>
<text transform="matrix(0.13565 0 0 0.13565 1110.81 755.68)" font-size="100" font-weight="normal" fill="#000">-7</text>
<text transform="matrix(0.19765 0 0 0.2087 1049.32 815)" font-size="100" font-weight="bold" fill="#000">1.0×10</text>
<text transform="matrix(0.13565 0 0 0.13565 1110.67 809.96)" font-size="100" font-weight="normal" fill="#000">-8</text>
<line x1="1164.8" y1="827.3" x2="1207" y2="827.3" stroke="#000" stroke-width="3" stroke-linecap="round"/>
<line x1="1254.3" y1="827.3" x2="1349.2" y2="827.3" stroke="#000" stroke-width="3" stroke-linecap="round"/>
<line x1="1407.8" y1="827.3" x2="1507.2" y2="827.3" stroke="#000" stroke-width="3" stroke-linecap="round"/>
<text transform="matrix(0.23584 0 0 0.21739 1175.17 852.7)" font-size="100" font-weight="bold" fill="#000">NI</text>
<text transform="matrix(0.21732 0 0 0.21594 1286.89 850.2)" font-size="100" font-weight="bold" fill="#000">1w</text>
<text transform="matrix(0.21769 0 0 0.21739 1446.84 851.7)" font-size="100" font-weight="bold" fill="#000">2w</text>
<line x1="1168.5" y1="868.3" x2="1501.5" y2="868.3" stroke="#000" stroke-width="3" stroke-linecap="round"/>
<text transform="matrix(0.19775 0 0 0.1971 1309.61 891.9)" font-size="100" font-weight="bold" fill="#000">IL-17</text>
<path d="M1173.7 543.3L1173.7 514.6L1410.6 514.6L1410.6 557.5" stroke="#000" stroke-width="3.2" fill="none" stroke-linecap="round" stroke-linejoin="round"/>
<text transform="matrix(0.22571 0 0 0.21143 1287.95 511.89)" font-size="100" font-weight="normal" fill="#2b2b2b" stroke="#2b2b2b" stroke-width="2.29" stroke-linejoin="round">*</text>
<path d="M1173.7 589L1173.7 556.7L1261.6 556.7L1261.6 586.6" stroke="#000" stroke-width="3.2" fill="none" stroke-linecap="round" stroke-linejoin="round"/>
<text transform="matrix(0.22286 0 0 0.22286 1220.25 555.58)" font-size="100" font-weight="normal" fill="#2b2b2b" stroke="#2b2b2b" stroke-width="2.24" stroke-linejoin="round">*</text>
<path d="M1254.9 644.5L1254.9 616.3L1329.1 616.3L1329.1 629.2" stroke="#000" stroke-width="3.2" fill="none" stroke-linecap="round" stroke-linejoin="round"/>
<text transform="matrix(0.23378 0 0 0.22571 1284.03 617.17)" font-size="100" font-weight="normal" fill="#2b2b2b" stroke="#2b2b2b" stroke-width="2.18" stroke-linejoin="round">**</text>
<circle cx="1158.3" cy="653.8" r="5.6"/>
<circle cx="1175.7" cy="666" r="5.6"/>
<circle cx="1191.6" cy="684.1" r="5.6"/>
<circle cx="1175.7" cy="690.7" r="5.6"/>
<circle cx="1158.3" cy="697" r="5.6"/>
<circle cx="1158.3" cy="702.6" r="5.6"/>
<circle cx="1191.6" cy="701.8" r="5.6"/>
<circle cx="1175.7" cy="709.2" r="5.6"/>
<circle cx="1175.7" cy="733.2" r="5.6"/>
<circle cx="1191.6" cy="729.5" r="5.6"/>
<line x1="1147.2" y1="684.1" x2="1201.6" y2="684.1" stroke="#000" stroke-width="2.5" stroke-linecap="butt"/>
<circle cx="1238.9" cy="691.5" r="5.6"/>
<circle cx="1255.2" cy="696.3" r="5.6"/>
<circle cx="1263.7" cy="706.2" r="5.6"/>
<circle cx="1238.9" cy="712.2" r="5.6"/>
<circle cx="1255.2" cy="714.8" r="5.6"/>
<circle cx="1271.2" cy="711.5" r="5.6"/>
<circle cx="1271.2" cy="718.5" r="5.6"/>
<circle cx="1238.9" cy="724" r="5.6"/>
<circle cx="1255.2" cy="733.2" r="5.6"/>
<circle cx="1272.2" cy="759.1" r="5.6"/>
<circle cx="1255.2" cy="763.9" r="5.6"/>
<line x1="1228.5" y1="712.9" x2="1282.1" y2="712.9" stroke="#000" stroke-width="2.5" stroke-linecap="butt"/>
<path d="M1318 653.9L1323.8 665.5L1312.2 665.5Z"/>
<path d="M1342.4 652.5L1348.2 664.1L1336.6 664.1Z"/>
<path d="M1351.6 656.9L1357.4 668.5L1345.8 668.5Z"/>
<path d="M1334.6 662.4L1340.4 674L1328.8 674Z"/>
<path d="M1318 675.4L1323.8 687L1312.2 687Z"/>
<path d="M1351.6 675.4L1357.4 687L1345.8 687Z"/>
<path d="M1318 681.7L1323.8 693.3L1312.2 693.3Z"/>
<path d="M1334.6 687.6L1340.4 699.2L1328.8 699.2Z"/>
<path d="M1318 706.1L1323.8 717.7L1312.2 717.7Z"/>
<path d="M1334.6 714.2L1340.4 725.8L1328.8 725.8Z"/>
<path d="M1351.6 711.2L1357.4 722.8L1345.8 722.8Z"/>
<line x1="1307.3" y1="676.7" x2="1360.9" y2="676.7" stroke="#000" stroke-width="2.5" stroke-linecap="butt"/>
<circle cx="1414.5" cy="588.2" r="5.6"/>
<circle cx="1414.5" cy="623.2" r="5.6"/>
<circle cx="1415.2" cy="655.6" r="5.6"/>
<circle cx="1423.7" cy="658.6" r="5.6"/>
<circle cx="1397.9" cy="661.1" r="5.6"/>
<circle cx="1431.9" cy="663" r="5.6"/>
<circle cx="1415.2" cy="674.1" r="5.6"/>
<circle cx="1397.9" cy="680.4" r="5.6"/>
<circle cx="1431.9" cy="680.4" r="5.6"/>
<circle cx="1415.2" cy="694.4" r="5.6"/>
<circle cx="1415.2" cy="730.6" r="5.6"/>
<line x1="1387.7" y1="634.4" x2="1441.1" y2="634.4" stroke="#000" stroke-width="2.5" stroke-linecap="butt"/>
<path d="M1478.8 652.1L1484.6 663.7L1473 663.7Z"/>
<path d="M1502.8 650.2L1508.6 661.8L1497 661.8Z"/>
<path d="M1510.6 655.8L1516.4 667.4L1504.8 667.4Z"/>
<path d="M1494.7 664.3L1500.5 675.9L1488.9 675.9Z"/>
<path d="M1478.8 666.9L1484.6 678.5L1473 678.5Z"/>
<path d="M1510.6 670.6L1516.4 682.2L1504.8 682.2Z"/>
<path d="M1478.8 675.4L1484.6 687L1473 687Z"/>
<path d="M1494.7 682L1500.5 693.6L1488.9 693.6Z"/>
<path d="M1510.6 688.3L1516.4 699.9L1504.8 699.9Z"/>
<path d="M1494.7 696.5L1500.5 708.1L1488.9 708.1Z"/>
<line x1="1468.1" y1="671.1" x2="1521.3" y2="671.1" stroke="#000" stroke-width="2.5" stroke-linecap="butt"/>
<circle cx="1563" cy="554" r="6"/>
<text transform="matrix(0.21963 0 0 0.23188 1587.54 560)" font-size="100" font-weight="normal" fill="#000">NaCL</text>
<path d="M1562.85 579.3L1569 591L1556.7 591Z"/>
<text transform="matrix(0.22814 0 0 0.21739 1587.47 591)" font-size="100" font-weight="normal" fill="#000">Prop</text>
<path d="M126.5 984.4L135 984.4L135 1239.8" stroke="#000" stroke-width="3.4" fill="none" stroke-linecap="round" stroke-linejoin="round"/>
<line x1="126.5" y1="1239.8" x2="384.7" y2="1239.8" stroke="#000" stroke-width="3.4" stroke-linecap="round"/>
<line x1="126.5" y1="984.4" x2="135" y2="984.4" stroke="#000" stroke-width="2.6" stroke-linecap="round"/>
<line x1="126.5" y1="1112.6" x2="135" y2="1112.6" stroke="#000" stroke-width="2.6" stroke-linecap="round"/>
<line x1="126.5" y1="1239.8" x2="135" y2="1239.8" stroke="#000" stroke-width="2.6" stroke-linecap="round"/>
<text transform="matrix(0.17252 0 0 0.18551 113.26 990.2)" font-size="100" font-weight="bold" fill="#000">1</text>
<text transform="matrix(0.17252 0 0 0.18551 98.85 1118.4)" font-size="100" font-weight="bold" fill="#000">0.1</text>
<text transform="matrix(0.17252 0 0 0.18551 89.28 1245.6)" font-size="100" font-weight="bold" fill="#000">0.01</text>
<text transform="matrix(0 -0.23061 0.22754 0 77 1212.04)" font-size="100" font-weight="normal" fill="#000" stroke="#000" stroke-width="1.96" stroke-linejoin="round">Relative Expression</text>
<line x1="154.8" y1="1252.2" x2="211.1" y2="1252.2" stroke="#000" stroke-width="3" stroke-linecap="round"/>
<line x1="249.3" y1="1252.5" x2="360.6" y2="1252.5" stroke="#000" stroke-width="3" stroke-linecap="round"/>
<text transform="matrix(0.21965 0 0 0.21159 169.17 1275.6)" font-size="100" font-weight="bold" fill="#000">NI</text>
<text transform="matrix(0.20709 0 0 0.21739 286.65 1275.6)" font-size="100" font-weight="bold" fill="#000">1w</text>
<line x1="156.5" y1="1292" x2="360.6" y2="1292" stroke="#000" stroke-width="3" stroke-linecap="round"/>
<text transform="matrix(0.18766 0 0 0.18406 187.95 1314.9)" font-size="100" font-weight="bold" fill="#000">GPR43/FFAR2</text>
<path d="M174.9 1049.9L174.9 1041.9L262.2 1041.9L262.2 1067.4" stroke="#000" stroke-width="3.2" fill="none" stroke-linecap="round" stroke-linejoin="round"/>
<text transform="matrix(0.21622 0 0 0.18571 211.57 1040.21)" font-size="100" font-weight="normal" fill="#2b2b2b" stroke="#2b2b2b" stroke-width="2.49" stroke-linejoin="round">**</text>
<circle cx="175.3" cy="1090.2" r="5.6"/>
<circle cx="160.1" cy="1106.6" r="5.6"/>
<circle cx="175.3" cy="1108.1" r="5.6"/>
<circle cx="190.6" cy="1138.9" r="5.6"/>
<circle cx="175.3" cy="1153.9" r="5.6"/>
<line x1="147.3" y1="1113.9" x2="204" y2="1113.9" stroke="#000" stroke-width="2.5" stroke-linecap="butt"/>
<circle cx="243" cy="1163.5" r="5.6"/>
<circle cx="243" cy="1168" r="5.6"/>
<circle cx="265.8" cy="1162.2" r="5.6"/>
<circle cx="273.5" cy="1166.3" r="5.6"/>
<circle cx="258.1" cy="1169.5" r="5.6"/>
<circle cx="258.1" cy="1196.1" r="5.6"/>
<line x1="231.3" y1="1169.9" x2="286.9" y2="1169.9" stroke="#000" stroke-width="2.5" stroke-linecap="butt"/>
<path d="M341.2 1121.6L347 1133.2L335.4 1133.2Z"/>
<path d="M325.5 1155.1L331.3 1166.7L319.7 1166.7Z"/>
<path d="M341.2 1158L347 1169.6L335.4 1169.6Z"/>
<path d="M356.4 1155.1L362.2 1166.7L350.6 1166.7Z"/>
<path d="M356.4 1165.3L362.2 1176.9L350.6 1176.9Z"/>
<path d="M341.2 1174L347 1185.6L335.4 1185.6Z"/>
<line x1="314.5" y1="1157.3" x2="369.8" y2="1157.3" stroke="#000" stroke-width="2.5" stroke-linecap="butt"/>
<circle cx="397.5" cy="997" r="6"/>
<text transform="matrix(0.20613 0 0 0.22174 420.65 1004)" font-size="100" font-weight="normal" fill="#000">NaCL</text>
<path d="M397.3 1021L403.3 1032L391.3 1032Z"/>
<text transform="matrix(0.21256 0 0 0.21739 421 1033.3)" font-size="100" font-weight="normal" fill="#000">Prop</text>
</g>
</svg>
</body></html>
